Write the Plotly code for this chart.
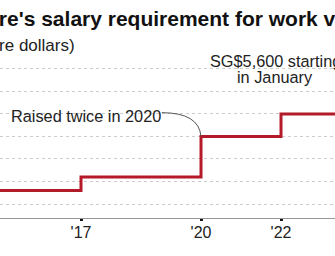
import plotly.graph_objects as go

# Data: minimum qualifying salary (Singapore dollars), step changes by year
years = [2014, 2017, 2020, 2020, 2022, 2025]
salary = [3300, 3600, 3900, 4500, 5000, 5600]

grid_vals = [3000, 3500, 4000, 4500, 5000, 5500, 6000]
tick_years = [2017, 2020, 2022, 2025]
tick_text = ["'17", "'20", "'22", "'25"]

RED = "#b31b28"
FONT = "Liberation Sans, Arial, sans-serif"

fig = go.Figure()
fig.add_trace(go.Scatter(
    x=years, y=salary, mode="lines", line_shape="hv",
    line=dict(color=RED, width=3), hoverinfo="skip", showlegend=False,
))

fig.update_layout(
    width=335, height=256,
    margin=dict(l=0, r=0, t=62, b=38),
    paper_bgcolor="white", plot_bgcolor="white",
    font=dict(family=FONT, color="#222", size=16),
    xaxis=dict(
        range=[2014.975, 2023.35], tickvals=tick_years, ticktext=tick_text,
        showgrid=False, zeroline=False, showline=True, linecolor="#999", linewidth=1,
        ticks="outside", ticklen=2, tickwidth=3, tickcolor="#111",
        ticklabelstandoff=-2,
        tickfont=dict(size=16, color="#222", family=FONT),
    ),
    yaxis=dict(
        range=[2689, 6155], tickvals=grid_vals, showticklabels=False,
        showgrid=True, gridcolor="#cccccc", griddash="dot", gridwidth=1,
        zeroline=False, showline=False,
    ),
    shapes=[dict(
        type="path", xref="x", yref="y",
        path="M 2019.02 5029 Q 2019.95 5029 2020 4500",
        line=dict(color="#555", width=1),
    )],
    annotations=[
        dict(text="<b>Singapore's salary requirement for work visas</b>",
             xref="paper", yref="paper", x=0, y=1, xanchor="left", yanchor="middle",
             xshift=-86, yshift=62 - 18, showarrow=False,
             font=dict(size=21, color="#111", family=FONT)),
        dict(text="(Singapore dollars)",
             xref="paper", yref="paper", x=0, y=1, xanchor="left", yanchor="middle",
             xshift=-71, yshift=62 - 45, showarrow=False,
             font=dict(size=17, color="#222", family=FONT)),
        dict(text="Raised twice in 2020", xref="x", yref="y", x=2015.2, y=4960,
             xanchor="left", yanchor="middle", showarrow=False,
             font=dict(size=16.3, color="#222", family=FONT)),
        dict(text="SG$5,600 starting", xref="paper", yref="paper", x=0.821, y=1.006,
             xanchor="center", yanchor="middle", showarrow=False,
             font=dict(size=16.3, color="#222", family=FONT)),
        dict(text="in January", xref="paper", yref="paper", x=0.821, y=0.901,
             xanchor="center", yanchor="middle", showarrow=False,
             font=dict(size=16.3, color="#222", family=FONT)),
    ],
)

fig.write_html("out.html")
